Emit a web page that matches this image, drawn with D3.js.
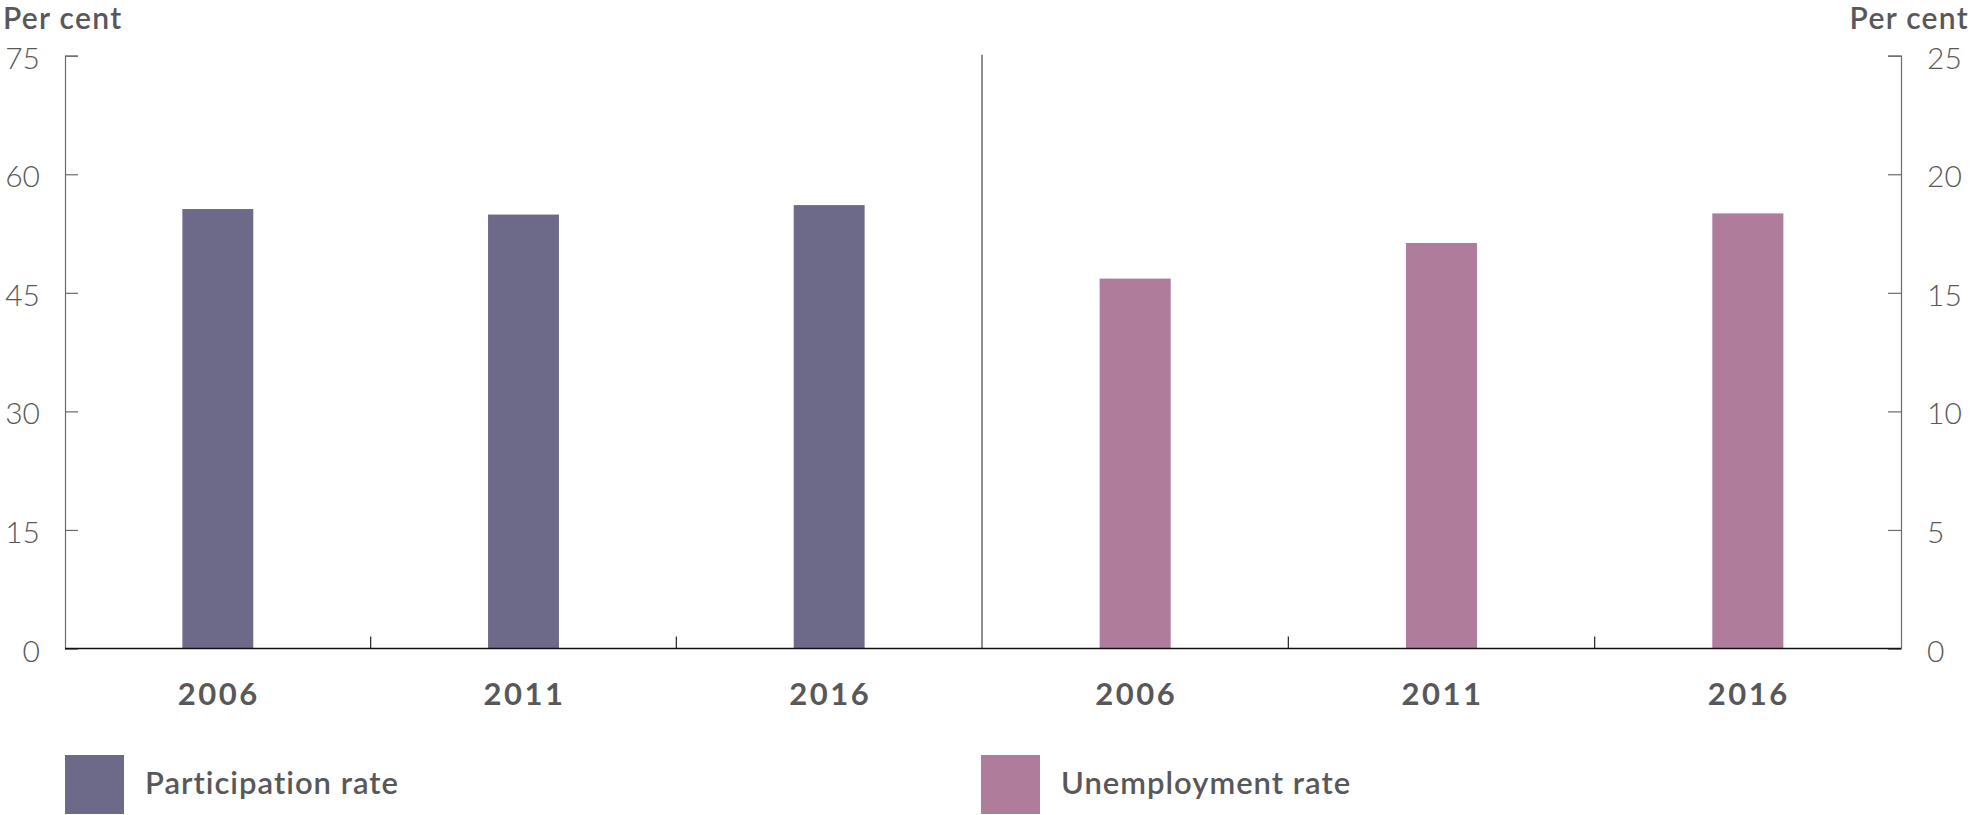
<!DOCTYPE html>
<html>
<head>
<meta charset="utf-8">
<script src="https://cdn.jsdelivr.net/npm/d3@7"></script>
<style>
  html, body { margin: 0; padding: 0; background: #fff; }
  svg { display: block; }
  text { font-family: Lato, "Open Sans", "Noto Sans", sans-serif; fill: #58585a; font-variant-ligatures: none; }
</style>
</head>
<body>
<svg id="chart" width="1971" height="815"></svg>
<script>
const years = ["2006", "2011", "2016"];
const participationRate = [55.6, 54.9, 56.1];
const unemploymentRate = [15.6, 17.1, 18.35];
const leftTicks = [0, 15, 30, 45, 60, 75];
const rightTicks = [0, 5, 10, 15, 20, 25];
const seriesNames = ["Participation rate", "Unemployment rate"];
const seriesColors = ["#6d6a89", "#b07c9b"];

const svg = d3.select("#chart");
const x0 = 65, xMid = 982, x1 = 1901;
const yTop = 55.7, yBot = 648.5;

const yLeft = d3.scaleLinear().domain([0, 75]).range([yBot, yTop]);
const yRight = d3.scaleLinear().domain([0, 25]).range([yBot, yTop]);
const xLeft = d3.scaleBand().domain(years).range([x0, xMid]).paddingInner(0.768).paddingOuter(0.384);
const xRight = d3.scaleBand().domain(years).range([xMid, x1]).paddingInner(0.768).paddingOuter(0.384);
const bandL = d3.scaleBand().domain(years).range([x0, xMid]);
const bandR = d3.scaleBand().domain(years).range([xMid, x1]);

// bars
svg.append("g").selectAll("rect").data(years).join("rect")
  .attr("x", d => xLeft(d)).attr("width", xLeft.bandwidth())
  .attr("y", (d, i) => yLeft(participationRate[i]))
  .attr("height", (d, i) => yBot - yLeft(participationRate[i]))
  .attr("fill", seriesColors[0]);
svg.append("g").selectAll("rect").data(years).join("rect")
  .attr("x", d => xRight(d)).attr("width", xRight.bandwidth())
  .attr("y", (d, i) => yRight(unemploymentRate[i]))
  .attr("height", (d, i) => yBot - yRight(unemploymentRate[i]))
  .attr("fill", seriesColors[1]);

// left axis
const gL = svg.append("g").attr("transform", `translate(${x0},0)`)
  .call(d3.axisLeft(yLeft).tickValues(leftTicks).tickSize(-13).tickPadding(25));
gL.select(".domain").attr("stroke", "#6b6b6b").attr("stroke-width", 1.2);
gL.selectAll(".tick line").attr("stroke", "#6b6b6b").attr("stroke-width", 1.2);
gL.selectAll(".tick text").attr("font-size", 30).attr("font-weight", 300)
  .attr("fill", "#58585a").attr("dy", "0.42em").style("font-family", "Lato, 'Open Sans', sans-serif");

// right axis
const gR = svg.append("g").attr("transform", `translate(${x1},0)`)
  .call(d3.axisRight(yRight).tickValues(rightTicks).tickSize(-13).tickPadding(26));
gR.select(".domain").attr("stroke", "#6b6b6b").attr("stroke-width", 1.2);
gR.selectAll(".tick line").attr("stroke", "#6b6b6b").attr("stroke-width", 1.2);
gR.selectAll(".tick text").attr("font-size", 30).attr("font-weight", 300)
  .attr("fill", "#58585a").attr("dy", "0.42em").style("font-family", "Lato, 'Open Sans', sans-serif");

// divider
svg.append("line").attr("x1", xMid).attr("x2", xMid).attr("y1", yTop - 1).attr("y2", yBot)
  .attr("stroke", "#444").attr("stroke-width", 1.2);

// baseline
svg.append("line").attr("x1", x0).attr("x2", x1).attr("y1", yBot).attr("y2", yBot)
  .attr("stroke", "#111").attr("stroke-width", 1.5);

// category boundary ticks
const bounds = [bandL(years[1]), bandL(years[2]), bandR(years[1]), bandR(years[2])];
svg.append("g").selectAll("line").data(bounds).join("line")
  .attr("x1", d => d).attr("x2", d => d).attr("y1", yBot - 12).attr("y2", yBot)
  .attr("stroke", "#222").attr("stroke-width", 1.2);

// category labels
const catLabels = [];
years.forEach(y => catLabels.push(xLeft(y) + xLeft.bandwidth() / 2));
years.forEach(y => catLabels.push(xRight(y) + xRight.bandwidth() / 2));
svg.append("g").selectAll("text").data(catLabels).join("text")
  .attr("x", d => d + 1).attr("y", 704.5).attr("text-anchor", "middle")
  .attr("font-size", 31).attr("font-weight", 700).attr("letter-spacing", 2.5)
  .text((d, i) => years[i % 3]);

// axis titles
svg.append("text").attr("x", 3).attr("y", 28.5).attr("font-size", 30).attr("font-weight", 600)
  .attr("letter-spacing", 1.3).text("Per cent");
svg.append("text").attr("x", 1969).attr("y", 28.5).attr("text-anchor", "end").attr("font-size", 30)
  .attr("font-weight", 600).attr("letter-spacing", 1.3).text("Per cent");

// legend
const legendX = [65, 981];
const lg = svg.append("g").selectAll("g").data(seriesNames).join("g")
  .attr("transform", (d, i) => `translate(${legendX[i]},755)`);
lg.append("rect").attr("width", 59).attr("height", 59).attr("fill", (d, i) => seriesColors[i]);
lg.append("text").attr("x", 80).attr("y", 38.5).attr("font-size", 31).attr("font-weight", 600)
  .attr("letter-spacing", 1).text(d => d);
</script>
</body>
</html>
